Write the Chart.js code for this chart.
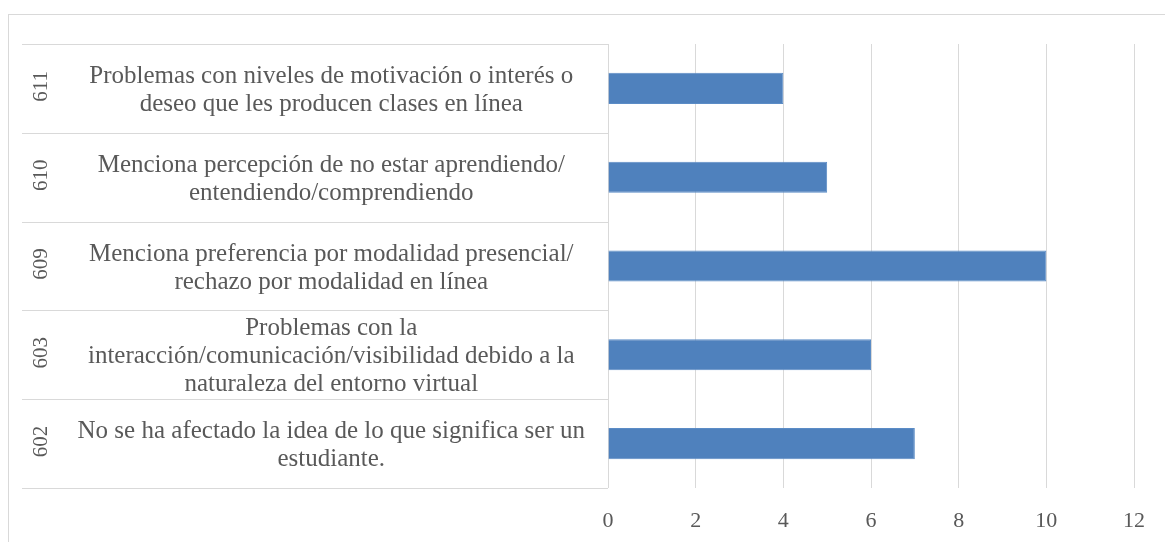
<!DOCTYPE html>
<html>
<head>
<meta charset="utf-8">
<script src="https://cdn.jsdelivr.net/npm/chart.js@4/dist/chart.umd.min.js"></script>
<style>
  html, body { margin: 0; padding: 0; background: #fff; overflow: hidden; }
  #wrap { position: relative; width: 1165px; height: 542px; }
  #frame { position: absolute; left: 8px; top: 14px; width: 1200px; height: 600px; border-left: 1px solid #d9d9d9; border-top: 1px solid #d9d9d9; }
  canvas { position: absolute; left: 0; top: 0; }
</style>
</head>
<body>
<div id="wrap">
  <div id="frame"></div>
  <canvas id="questionChart" width="1165" height="542"></canvas>
</div>
<script>
// category codes and their descriptions (top to bottom)
const codes = ['611', '610', '609', '603', '602'];
const descriptions = [
  ['Problemas con niveles de motivación o interés o', 'deseo que les producen clases en línea'],
  ['Menciona percepción de no estar aprendiendo/', 'entendiendo/comprendiendo'],
  ['Menciona preferencia por modalidad presencial/', 'rechazo por modalidad en línea'],
  ['Problemas con la', 'interacción/comunicación/visibilidad debido a la', 'naturaleza del entorno virtual'],
  ['No se ha afectado la idea de lo que significa ser un', 'estudiante.']
];
const counts = [4, 5, 10, 6, 7];

const textColor = '#595959';
const lineColor = '#d9d9d9';
const fontFamily = "'Liberation Serif', serif";

// draws the code column and the row separators of the label area
const groupLabels = {
  id: 'groupLabels',
  afterDraw(chart) {
    const ctx = chart.ctx;
    const y = chart.scales.y;
    const left = 22;
    const right = chart.chartArea.left;
    const step = y.height / codes.length;
    ctx.save();
    ctx.strokeStyle = lineColor;
    ctx.lineWidth = 1;
    for (let i = 0; i <= codes.length; i++) {
      const py = Math.round(y.top + i * step) + 0.5;
      ctx.beginPath();
      ctx.moveTo(left, py);
      ctx.lineTo(right, py);
      ctx.stroke();
    }
    ctx.fillStyle = textColor;
    ctx.font = '21px ' + fontFamily;
    ctx.textAlign = 'center';
    ctx.textBaseline = 'middle';
    codes.forEach(function(code, i) {
      const cy = y.getPixelForValue(i);
      ctx.save();
      ctx.translate(41, cy - 2);
      ctx.rotate(-Math.PI / 2);
      ctx.fillText(code, 0, 0);
      ctx.restore();
    });
    ctx.restore();
  }
};

function createQuestionChart() {
  const ctx = document.getElementById('questionChart').getContext('2d');
  return new Chart(ctx, {
    type: 'bar',
    data: {
      labels: descriptions,
      datasets: [{
        data: counts,
        backgroundColor: '#4f81bd',
        borderColor: '#5b8cc6',
        borderWidth: 1,
        categoryPercentage: 1,
        barPercentage: 0.35
      }]
    },
    options: {
      indexAxis: 'y',
      responsive: false,
      animation: false,
      layout: {
        padding: { left: 0, top: 44, right: 31, bottom: 9 }
      },
      plugins: {
        legend: { display: false },
        tooltip: { enabled: false }
      },
      scales: {
        x: {
          min: 0,
          max: 12,
          afterFit: function(scale) {
            scale.height = 45;
          },
          ticks: {
            stepSize: 2,
            padding: 20,
            color: textColor,
            font: { family: fontFamily, size: 22 }
          },
          grid: {
            color: lineColor,
            lineWidth: 1,
            drawTicks: false
          },
          border: { display: false }
        },
        y: {
          afterFit: function(scale) {
            scale.width = 608;
            scale.paddingTop = 0;
            scale.paddingBottom = 0;
          },
          ticks: {
            autoSkip: false,
            crossAlign: 'center',
            padding: 15,
            labelOffset: 2,
            color: textColor,
            font: { family: fontFamily, size: 25, lineHeight: 1.12 }
          },
          grid: { display: false },
          border: { display: false }
        }
      }
    },
    plugins: [groupLabels]
  });
}

document.addEventListener('DOMContentLoaded', function() {
  createQuestionChart();
});
</script>
</body>
</html>
